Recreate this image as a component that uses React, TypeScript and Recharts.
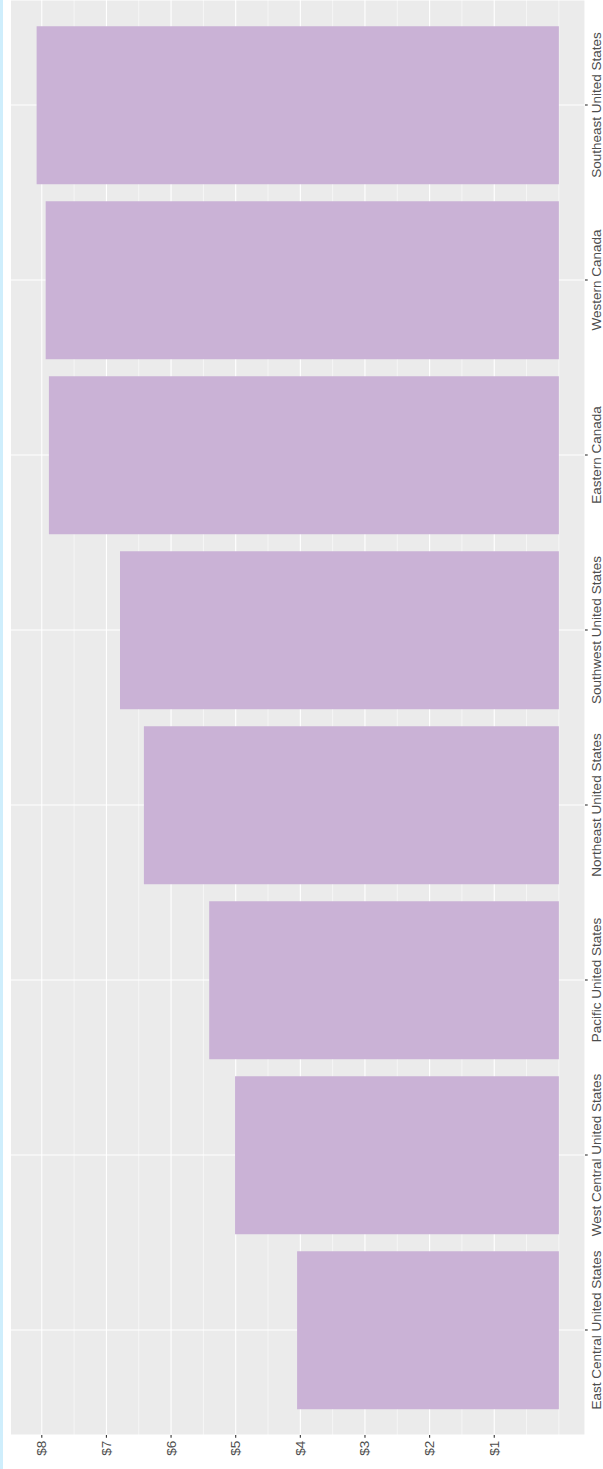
import React from "react";
import { BarChart, Bar, XAxis, YAxis, CartesianGrid } from "recharts";

const categories = [
  "Southeast United States",
  "Western Canada",
  "Eastern Canada",
  "Southwest United States",
  "Northeast United States",
  "Pacific United States",
  "West Central United States",
  "East Central United States",
];
const values = [8.08, 7.94, 7.89, 6.79, 6.42, 5.41, 5.01, 4.05];
const valueTicks = [1, 2, 3, 4, 5, 6, 7, 8];
const minorTicks = [0, 0.5, 1.5, 2.5, 3.5, 4.5, 5.5, 6.5, 7.5];

const data = categories.map((region, i) => ({ region, value: values[i] }));

const FONT = "'Liberation Sans', Arial, Helvetica, sans-serif";
const TEXT_COLOR = "#4D4D4D";

const ValueTick = (props: any) => {
  const { x, y, payload } = props;
  const ay = y + 1;
  return (
    <text
      x={x}
      y={ay}
      transform={`rotate(-90 ${x} ${ay})`}
      textAnchor="end"
      dominantBaseline="central"
      fontFamily={FONT}
      fontSize={13.5}
      fill={TEXT_COLOR}
    >
      {`$${payload.value}`}
    </text>
  );
};

const CategoryTick = (props: any) => {
  const { x, y, payload } = props;
  const ax = x + 11;
  return (
    <text
      x={ax}
      y={y}
      transform={`rotate(-90 ${ax} ${y})`}
      textAnchor="middle"
      fontFamily={FONT}
      fontSize={13.5}
      fill={TEXT_COLOR}
    >
      {payload.value}
    </text>
  );
};

export default function App() {
  return (
    <div
      style={{
        position: "absolute",
        left: 0,
        top: 0,
        width: 603,
        height: 1469,
        background: "#FFFFFF",
      }}
    >
      <div
        style={{
          position: "absolute",
          left: 0,
          top: 0,
          width: 3,
          height: 1469,
          background: "#CFEEFC",
        }}
      />
      <BarChart
        width={603}
        height={1469}
        data={data}
        layout="vertical"
        margin={{ top: 0, right: 0, bottom: 0, left: 10.5 }}
        barCategoryGap="5%"
      >
        <CartesianGrid
          fill="#EBEBEB"
          stroke="#FFFFFF"
          strokeWidth={0.55}
          horizontal={false}
          verticalValues={minorTicks}
        />
        <CartesianGrid stroke="#FFFFFF" strokeWidth={1.1} />
        <XAxis
          type="number"
          dataKey="value"
          domain={[-0.404, 8.484]}
          allowDataOverflow
          reversed
          ticks={valueTicks}
          interval={0}
          height={34}
          axisLine={false}
          tickSize={2.7}
          tickLine={{ stroke: "#333333", strokeWidth: 1.1 }}
          tickMargin={2}
          tick={<ValueTick />}
        />
        <YAxis
          type="category"
          dataKey="region"
          orientation="right"
          width={18}
          padding={{ top: 17.5, bottom: 17.5 }}
          interval={0}
          axisLine={false}
          tickSize={2.7}
          tickLine={{ stroke: "#333333", strokeWidth: 1.1 }}
          tickMargin={2}
          tick={<CategoryTick />}
        />
        <Bar dataKey="value" fill="#CAB2D6" isAnimationActive={false} />
      </BarChart>
    </div>
  );
}
